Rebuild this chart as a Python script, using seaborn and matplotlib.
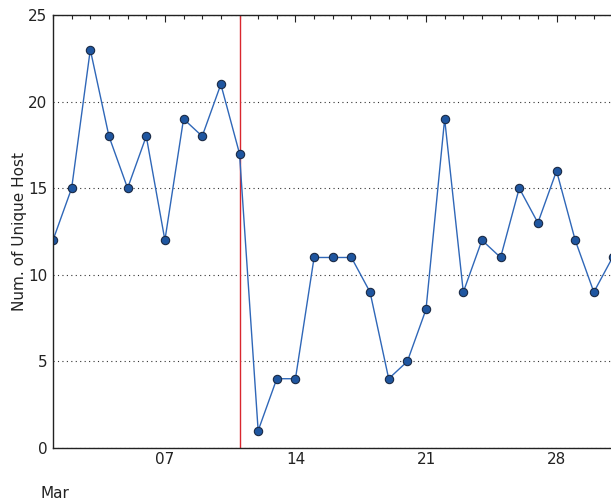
import matplotlib
matplotlib.use("Agg")
import matplotlib.pyplot as plt
import matplotlib.dates as mdates
import numpy as np
import pandas as pd
import seaborn as sns

# Daily counts of unique hosts for March
dates = pd.date_range("2016-03-01", "2016-03-31", freq="D")
hosts = [12, 15, 23, 18, 15, 18, 12, 19, 18, 21, 17, 1, 4, 4, 11,
         11, 11, 9, 4, 5, 8, 19, 9, 12, 11, 15, 13, 16, 12, 9, 11]
event_date = pd.Timestamp("2016-03-11")
y_ticks = [0, 5, 10, 15, 20, 25]

df = pd.DataFrame({"date": dates, "hosts": hosts})

sns.set_style("white")
plt.rcParams["font.family"] = ["DejaVu Sans"]

fig = plt.figure(figsize=(6.11, 5.03), dpi=100)
ax = fig.add_axes([53 / 611, 1 - 448 / 503, 559.5 / 611, 433 / 503])

sns.lineplot(data=df, x="date", y="hosts", ax=ax, color="#2f67b8",
             linewidth=1.0, marker="o", markersize=6.0,
             markerfacecolor="#1f56a0", markeredgecolor="#1a2a45",
             markeredgewidth=0.8)

ax.axvline(event_date, color="#d9272e", linewidth=1.0, zorder=1)

ax.set_xlim(dates[0], dates[-1])
ax.set_ylim(0, 25)
ax.set_yticks(y_ticks)
ax.yaxis.grid(True, linestyle=(0, (1, 3)), color="#333333", linewidth=0.8)
ax.xaxis.grid(False)

ax.xaxis.set_major_locator(mdates.DayLocator(bymonthday=[7, 14, 21, 28]))
ax.xaxis.set_major_formatter(mdates.DateFormatter("%d"))
ax.xaxis.set_minor_locator(mdates.DayLocator())

ax.tick_params(axis="both", which="both", direction="in", top=True,
               labelsize=11, colors="#222222")
ax.tick_params(axis="x", which="major", length=5, width=0.8, pad=3)
ax.tick_params(axis="x", which="minor", length=3, width=0.8)
ax.tick_params(axis="y", which="major", length=5, width=0.8, pad=4)

for side in ["left", "bottom", "top"]:
    ax.spines[side].set_visible(True)
    ax.spines[side].set_color("#222222")
    ax.spines[side].set_linewidth(1.0)
ax.spines["right"].set_visible(False)

ax.set_xlabel("")
ax.set_ylabel("Num. of Unique Host", fontsize=11, color="#222222", labelpad=1)

fig.text(40 / 611, 1 - 493 / 503, "Mar", fontsize=11, color="#222222",
         va="center", ha="left")

fig.savefig("out.png", dpi=100)
